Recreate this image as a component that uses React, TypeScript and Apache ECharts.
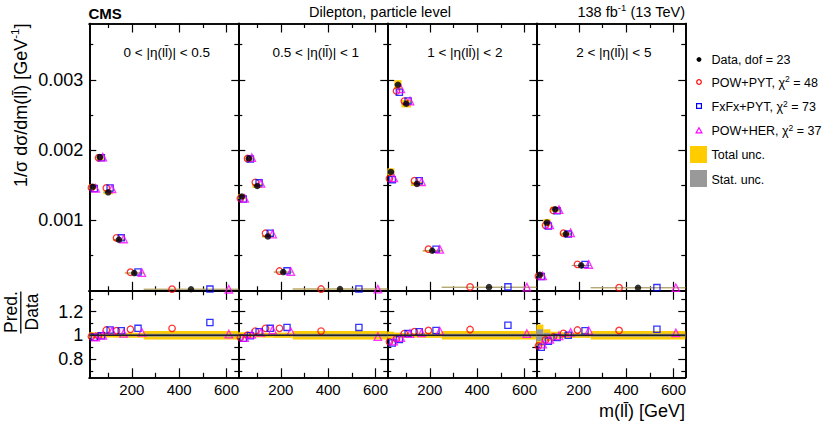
import React, { useEffect, useRef } from 'react';
import * as echarts from 'echarts';

// ---------------- data ----------------
const mllBinEdges = [20, 50, 80, 120, 170, 250, 650];
const etaBinLabels = ['0 < |η(ll̄)| < 0.5', '0.5 < |η(ll̄)| < 1', '1 < |η(ll̄)| < 2', '2 < |η(ll̄)| < 5'];

// 1/sigma dsigma/dm(ll) [GeV^-1], measured data
const dataEta1 = [0.00148, 0.0019, 0.0014, 0.000725, 0.000252, 0.000022];
const dataEta2 = [0.00134, 0.00188, 0.00149, 0.000773, 0.000266, 0.000024];
const dataEta3 = [0.00169, 0.00293, 0.00266, 0.00152, 0.000569, 0.000052];
const dataEta4 = [0.000228, 0.00097, 0.00116, 0.000806, 0.00036, 0.000043];

// Pred./Data ratios
const powPytRatio1 = [0.99, 0.995, 1.044, 1.038, 1.05, 1.058];
const powPytRatio2 = [0.98, 1.0, 1.035, 1.058, 1.058, 1.035];
const powPytRatio3 = [0.944, 0.97, 1.014, 1.03, 1.04, 1.048];
const powPytRatio4 = [0.91, 0.96, 0.985, 1.016, 1.044, 1.04];

const fxfxPytRatio1 = [0.982, 0.995, 1.044, 1.038, 1.058, 1.108];
const fxfxPytRatio2 = [0.974, 0.996, 1.03, 1.058, 1.066, 1.066];
const fxfxPytRatio3 = [0.935, 0.963, 1.014, 1.03, 1.04, 1.084];
const fxfxPytRatio4 = [0.898, 0.95, 0.98, 1.0, 1.038, 1.05];

const powHerRatio1 = [0.985, 1.0, 1.035, 1.016, 1.024, 1.01];
const powHerRatio2 = [0.98, 1.007, 1.024, 1.044, 1.03, 0.988];
const powHerRatio3 = [0.95, 0.98, 1.014, 1.02, 1.034, 1.014];
const powHerRatio4 = [0.925, 0.965, 0.995, 1.024, 1.038, 1.02];

// relative uncertainties
const totalUnc1 = [0.025, 0.022, 0.02, 0.02, 0.022, 0.035];
const totalUnc2 = [0.025, 0.022, 0.02, 0.02, 0.022, 0.035];
const totalUnc3 = [0.03, 0.022, 0.02, 0.02, 0.022, 0.035];
const totalUnc4 = [0.09, 0.05, 0.03, 0.025, 0.022, 0.035];
const statUnc1 = [0.008, 0.006, 0.006, 0.006, 0.008, 0.012];
const statUnc2 = [0.008, 0.006, 0.006, 0.006, 0.008, 0.012];
const statUnc3 = [0.01, 0.006, 0.006, 0.006, 0.008, 0.012];
const statUnc4 = [0.05, 0.02, 0.012, 0.01, 0.01, 0.012];

const legendNames = ['Data, dof = 23', 'POW+PYT', 'FxFx+PYT', 'POW+HER'];
const chi2Values = [48, 73, 37];

const xLabelValues = [200, 400, 600];
const xMinorValues = [100, 300, 500];
const topYLabelValues = [0.001, 0.002, 0.003];
const topYMinorValues = [0.0005, 0.0015, 0.0025, 0.0035];
const ratioLabelValues = [0.8, 1, 1.2];
const ratioMinorValues = [0.7, 0.9, 1.1, 1.3];

const dataAll = [dataEta1, dataEta2, dataEta3, dataEta4];
const powPytAll = [powPytRatio1, powPytRatio2, powPytRatio3, powPytRatio4];
const fxfxAll = [fxfxPytRatio1, fxfxPytRatio2, fxfxPytRatio3, fxfxPytRatio4];
const powHerAll = [powHerRatio1, powHerRatio2, powHerRatio3, powHerRatio4];
const totAll = [totalUnc1, totalUnc2, totalUnc3, totalUnc4];
const statAll = [statUnc1, statUnc2, statUnc3, statUnc4];

// ---------------- layout / style ----------------
const FONT = '"Liberation Sans", Arial, Helvetica, sans-serif';
const LEFT = 89.3;
const PW = 149;
const TOP = 23.5;
const MID = 290.8;
const BOT = 377.3;
const X_MIN = 20;
const X_MAX = 650;

const RED = '#ff0000';
const BLUE = '#0000ff';
const MAGENTA = '#ff00ff';
const YELLOW = '#ffcc00';
const GRAY = '#999999';

function buildOption() {
  const grids: any[] = [];
  const xAxes: any[] = [];
  const yAxes: any[] = [];
  const series: any[] = [];

  const axisLine = { show: true, onZero: false, lineStyle: { color: '#000', width: 1.7 } };

  const addX = (gridIndex: number, position: string, ticks: number[], len: number, labels: boolean) => {
    xAxes.push({
      type: 'value', gridIndex, position, min: X_MIN, max: X_MAX,
      axisLine,
      axisTick: { show: true, inside: true, length: len, customValues: ticks, lineStyle: { color: '#000', width: 1.2 } },
      axisLabel: labels
        ? { show: true, customValues: xLabelValues, fontSize: 15, fontFamily: FONT, color: '#000', margin: 5 }
        : { show: false },
      splitLine: { show: false },
    });
    return xAxes.length - 1;
  };
  const addY = (gridIndex: number, position: string, min: number, max: number, ticks: number[], len: number,
    labels: number[] | null, fmt?: (v: number) => string) => {
    yAxes.push({
      type: 'value', gridIndex, position, min, max,
      axisLine,
      axisTick: { show: true, inside: true, length: len, customValues: ticks, lineStyle: { color: '#000', width: 1.2 } },
      axisLabel: labels
        ? { show: true, customValues: labels, fontSize: 18, fontFamily: FONT, color: '#000', margin: 6, formatter: fmt }
        : { show: false },
      splitLine: { show: false },
    });
    return yAxes.length - 1;
  };

  const bandRender = (ratioMode: boolean) => (params: any, api: any) => {
    const lo = api.value(0);
    const hi = api.value(1);
    const v = ratioMode ? 1 : api.value(2);
    const t = api.value(3);
    const s = api.value(4);
    const mk = (rel: number, fill: string) => {
      const a = api.coord([lo, v * (1 + rel)]);
      const b = api.coord([hi, v * (1 - rel)]);
      let h = b[1] - a[1];
      let y = a[1];
      if (h < 1) { y = (a[1] + b[1]) / 2 - 0.5; h = 1; }
      return { type: 'rect', shape: { x: a[0], y, width: b[0] - a[0], height: h }, style: { fill } };
    };
    return { type: 'group', children: [mk(t, YELLOW), mk(s, GRAY)] };
  };

  const modelOffsets = [-0.2, 0.2, 0.4];
  const modelStyles = [
    { symbol: 'circle', size: 6.5, color: RED },
    { symbol: 'rect', size: 6.2, color: BLUE },
    { symbol: 'triangle', size: 7.5, color: MAGENTA },
  ];

  for (let i = 0; i < 4; i++) {
    const left = LEFT + i * PW;
    grids.push({ left, width: PW, top: TOP, height: MID - TOP });
    grids.push({ left, width: PW, top: MID, height: BOT - MID });
    const gTop = 2 * i;
    const gBot = 2 * i + 1;

    const xt = addX(gTop, 'bottom', xLabelValues, 9, false);
    addX(gTop, 'bottom', xMinorValues, 4.5, false);
    addX(gTop, 'top', xLabelValues, 9, false);
    addX(gTop, 'top', xMinorValues, 4.5, false);
    const xb = addX(gBot, 'bottom', xLabelValues, 9, true);
    addX(gBot, 'bottom', xMinorValues, 4.5, false);
    addX(gBot, 'top', xLabelValues, 9, false);
    addX(gBot, 'top', xMinorValues, 4.5, false);

    const yt = addY(gTop, 'left', 0, 0.0038, topYLabelValues, 7, i === 0 ? topYLabelValues : null, (v) => v.toFixed(3));
    addY(gTop, 'left', 0, 0.0038, topYMinorValues, 4, null);
    addY(gTop, 'right', 0, 0.0038, topYLabelValues, 7, null);
    addY(gTop, 'right', 0, 0.0038, topYMinorValues, 4, null);
    const yb = addY(gBot, 'left', 0.645, 1.375, ratioLabelValues, 7, i === 0 ? ratioLabelValues : null, (v) => String(v));
    addY(gBot, 'left', 0.645, 1.375, ratioMinorValues, 4, null);
    addY(gBot, 'right', 0.645, 1.375, ratioLabelValues, 7, null);
    addY(gBot, 'right', 0.645, 1.375, ratioMinorValues, 4, null);

    const vals = dataAll[i];
    const bandRows = vals.map((v, j) => [mllBinEdges[j], mllBinEdges[j + 1], v, totAll[i][j], statAll[i][j]]);

    series.push({
      type: 'custom', name: 'Total unc.', xAxisIndex: xt, yAxisIndex: yt, silent: true,
      renderItem: bandRender(false), data: bandRows,
    });
    series.push({
      type: 'custom', name: 'Stat. unc.', xAxisIndex: xb, yAxisIndex: yb, silent: true,
      renderItem: bandRender(true), data: bandRows,
    });
    series.push({
      type: 'line', xAxisIndex: xb, yAxisIndex: yb, silent: true, symbol: 'none',
      lineStyle: { color: '#222', width: 1.6 }, data: [[X_MIN, 1], [X_MAX, 1]],
    });

    const ratiosAll = [powPytAll[i], fxfxAll[i], powHerAll[i]];
    ratiosAll.forEach((ratios, m) => {
      const st = modelStyles[m];
      const pos = (j: number) => {
        const lo = mllBinEdges[j];
        const hi = mllBinEdges[j + 1];
        return (lo + hi) / 2 + modelOffsets[m] * (hi - lo);
      };
      const common = {
        type: 'scatter', silent: true, symbol: st.symbol, symbolSize: st.size,
        itemStyle: { color: 'rgba(255,255,255,0)', borderColor: st.color, borderWidth: 1.3 },
      };
      series.push({
        ...common, name: legendNames[m + 1], xAxisIndex: xt, yAxisIndex: yt,
        data: ratios.map((r, j) => [pos(j), vals[j] * r]),
      });
      series.push({
        ...common, name: legendNames[m + 1], xAxisIndex: xb, yAxisIndex: yb,
        data: ratios.map((r, j) => [pos(j), r]),
      });
    });

    series.push({
      type: 'scatter', name: legendNames[0], silent: true, xAxisIndex: xt, yAxisIndex: yt,
      symbol: 'circle', symbolSize: 6.5, itemStyle: { color: '#000' },
      data: vals.map((v, j) => [(mllBinEdges[j] + mllBinEdges[j + 1]) / 2, v]),
    });
  }

  const txt = (x: number, y: number, text: string, size: number, align: string, extra: any = {}) => ({
    type: 'text', x, y, silent: true,
    style: { text, fontSize: size, fontFamily: FONT, fill: '#000', align, verticalAlign: 'middle', ...extra },
  });

  const graphic: any[] = [];
  graphic.push(txt(88.5, 13.5, 'CMS', 15, 'left', { fontWeight: 'bold' }));
  graphic.push(txt(380, 12, 'Dilepton, particle level', 14.5, 'center'));
  graphic.push(txt(685, 12, '{n|138 fb}{s|-1}{n| (13 TeV)}', 14.5, 'right', {
    rich: {
      n: { fontSize: 14.5, fontFamily: FONT, lineHeight: 20, verticalAlign: 'middle' },
      s: { fontSize: 9.5, fontFamily: FONT, lineHeight: 10, verticalAlign: 'top' },
    },
  }));
  etaBinLabels.forEach((lab, i) => {
    graphic.push(txt(LEFT + i * PW + PW / 2 + 3, 52, lab, 13.5, 'center'));
  });
  // y titles
  graphic.push({
    type: 'text', x: 21, y: 23.5, rotation: Math.PI / 2, silent: true,
    style: {
      text: '{n|1/σ dσ/dm(ll̄) [GeV}{s|-1}{n|]}', align: 'right', verticalAlign: 'middle', fill: '#000',
      rich: {
        n: { fontSize: 18, fontFamily: FONT, lineHeight: 24, verticalAlign: 'middle' },
        s: { fontSize: 11.5, fontFamily: FONT, lineHeight: 12, verticalAlign: 'top' },
      },
    },
  });
  graphic.push({ ...txt(10.5, 312, 'Pred.', 17.5, 'center'), rotation: Math.PI / 2 });
  graphic.push({ ...txt(31.5, 312, 'Data', 17.5, 'center'), rotation: Math.PI / 2 });
  graphic.push({
    type: 'line', silent: true, shape: { x1: 20.8, y1: 291.5, x2: 20.8, y2: 333.5 },
    style: { stroke: '#000', lineWidth: 1.3 },
  });
  graphic.push(txt(685, 411, 'm(ll̄) [GeV]', 18, 'right'));

  // legend
  const LX = 699;
  const TX = 711.5;
  graphic.push({ type: 'circle', silent: true, shape: { cx: LX, cy: 59.5, r: 2.4 }, style: { fill: '#000' } });
  graphic.push({ type: 'circle', silent: true, shape: { cx: LX, cy: 82, r: 2.3 }, style: { fill: 'none', stroke: RED, lineWidth: 1.2 } });
  graphic.push({ type: 'rect', silent: true, shape: { x: LX - 2.4, y: 106 - 2.4, width: 4.8, height: 4.8 }, style: { fill: 'none', stroke: BLUE, lineWidth: 1.2 } });
  graphic.push({ type: 'polygon', silent: true, shape: { points: [[LX, 127.8], [LX + 2.9, 132.8], [LX - 2.9, 132.8]] }, style: { fill: 'none', stroke: MAGENTA, lineWidth: 1.2 } });
  graphic.push({ type: 'rect', silent: true, shape: { x: 690, y: 146, width: 17, height: 17 }, style: { fill: YELLOW } });
  graphic.push({ type: 'rect', silent: true, shape: { x: 690, y: 170, width: 17, height: 17 }, style: { fill: GRAY } });

  const legRich = {
    n: { fontSize: 12.5, fontFamily: FONT, lineHeight: 16, verticalAlign: 'middle' },
    s: { fontSize: 8.5, fontFamily: FONT, lineHeight: 8, verticalAlign: 'top' },
  };
  graphic.push(txt(TX, 60, legendNames[0], 12.5, 'left'));
  const ys = [82.5, 107, 131];
  chi2Values.forEach((c, m) => {
    graphic.push(txt(TX, ys[m], `{n|${legendNames[m + 1]}, χ}{s|2}{n| = ${c}}`, 12.5, 'left', { rich: legRich }));
  });
  graphic.push(txt(TX, 155, 'Total unc.', 12.5, 'left'));
  graphic.push(txt(TX, 179.5, 'Stat. unc.', 12.5, 'left'));

  return {
    animation: false,
    backgroundColor: '#fff',
    grid: grids,
    xAxis: xAxes,
    yAxis: yAxes,
    series,
    graphic,
  };
}

export default function App() {
  const ref = useRef<HTMLDivElement>(null);
  useEffect(() => {
    const chart = echarts.init(ref.current as HTMLDivElement, null, { renderer: 'svg' });
    chart.setOption(buildOption() as any);
    return () => chart.dispose();
  }, []);
  return (
    <div
      ref={ref}
      style={{ position: 'absolute', left: 0, top: 0, width: 831, height: 430, background: '#fff' }}
    />
  );
}
